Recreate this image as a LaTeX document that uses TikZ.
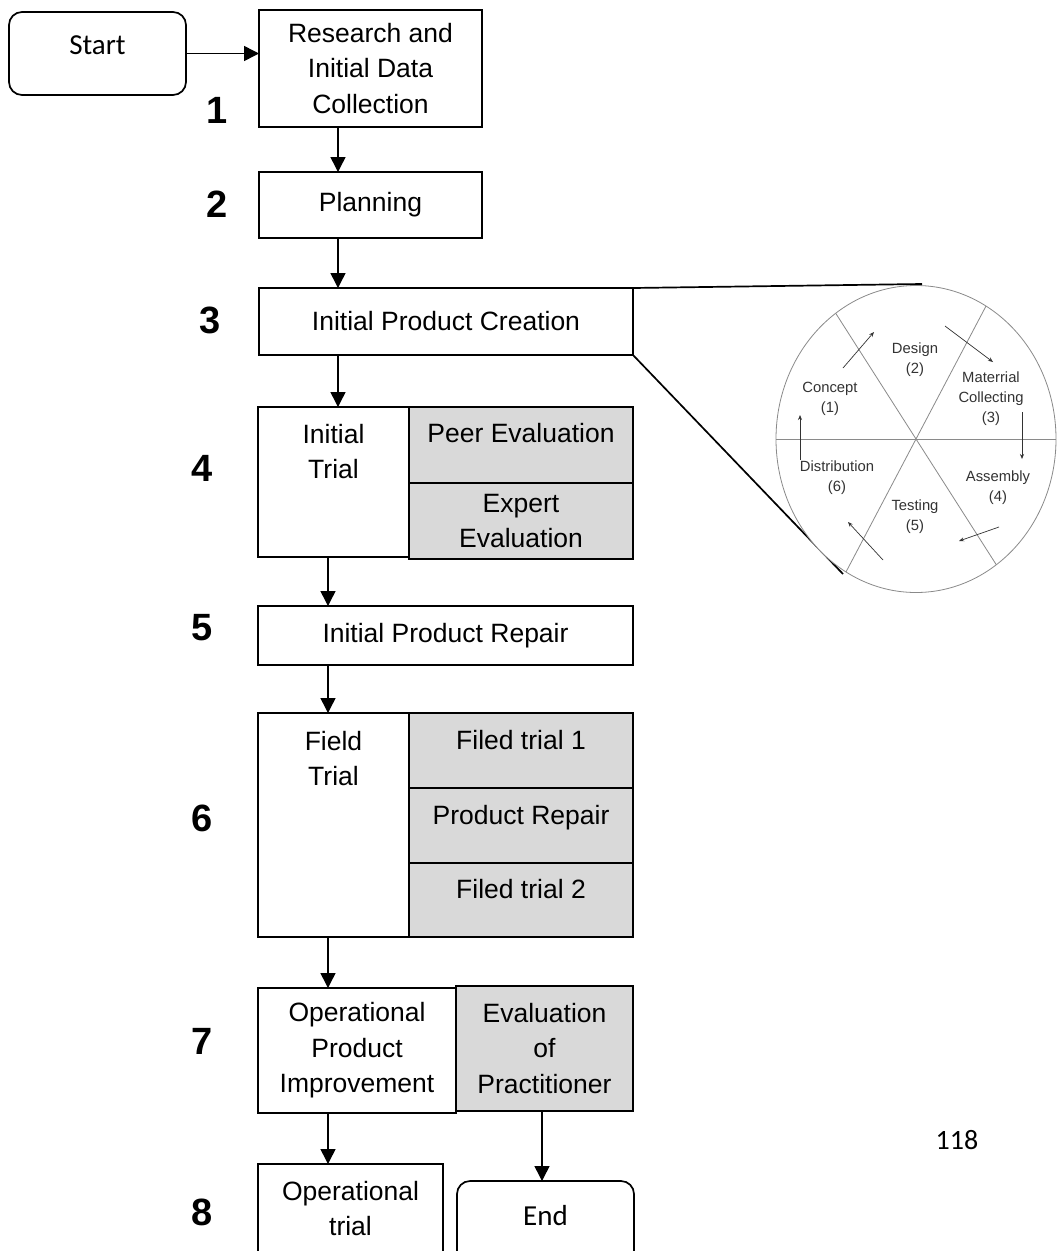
\documentclass[tikz,border=0pt]{standalone}
\usepackage{fontspec}
\setmainfont{Liberation Sans}
\newfontfamily\calibrifont{Carlito}
\usetikzlibrary{positioning,arrows.meta,calc}
\definecolor{cellgray}{HTML}{D9D9D9}
\definecolor{wheelline}{HTML}{8A8A8A}
\definecolor{wheeltext}{HTML}{333333}

\begin{document}
\begin{tikzpicture}[x=1pt, y=-1pt, line width=1.7pt,
    box/.style = {draw, inner sep=0pt, outer sep=0pt, align=center, font=\fontsize{26.5}{35.5}\selectfont},
    cell/.style = {box, fill=cellgray},
    term/.style = {draw, rounded corners=13pt, inner sep=0pt, outer sep=0pt, font=\calibrifont\fontsize{29}{29}\selectfont},
    txt/.style = {inner sep=0pt, anchor=north, align=center, font=\fontsize{26.5}{35.5}\selectfont},
    num/.style = {inner sep=0pt, font=\fontsize{38}{38}\selectfont\bfseries},
    spoke/.style = {draw=wheelline, line width=0.8pt},
    phase/.style = {align=center, inner sep=0pt, text=wheeltext, font=\fontsize{14.8}{20}\selectfont},
    cyc/.style = {-{Stealth[length=5pt,width=4pt]}, draw=wheeltext, line width=0.7pt},
    flow/.style = {-{Triangle[length=15pt,width=15pt]}, line width=1.5pt}]
            \useasboundingbox (0,0) rectangle (1064,1251);
            \clip (0,0) rectangle (1064,1251);

            \coordinate (colA) at (338,0);
            \coordinate (colB) at (328,0);
            \coordinate (colC) at (542,0);

            % main flow
            \node[term, minimum width=177pt, minimum height=83pt, text depth=17pt] (start) at (97.5,53.5) {Start};
            \node[box, minimum width=223pt, minimum height=117pt] (research) at (370.5,68.5) {Research and\\Initial Data\\Collection};
            \node[box, minimum width=223pt, minimum height=66pt] (plan) at (370.5,205) {Planning};
            \node[box, minimum width=374pt, minimum height=67pt] (ipc) at (446,321.5) {Initial Product Creation};

            \node[box, minimum width=151pt, minimum height=150pt] (itrial) at (333.5,482) {};
            \node[txt] (itrialtxt) at (333.5,423) {Initial\\Trial};
            \node[cell, minimum width=224pt, minimum height=76pt, anchor=north west] (peer) at (itrial.north east) {};
            \node[txt] (peertxt) at (521,422) {Peer Evaluation};
            \node[cell, minimum width=224pt, minimum height=76pt, below=0pt of peer] (expert) {Expert\\Evaluation};

            \node[box, minimum width=375pt, minimum height=59pt] (repair) at (445.5,635.5) {Initial Product Repair};

            \node[box, minimum width=151pt, minimum height=224pt] (ftrial) at (333.5,825) {};
            \node[txt] (ftrialtxt) at (333.5,730) {Field\\Trial};
            \node[cell, minimum width=224pt, minimum height=75pt, anchor=north west] (fone) at (ftrial.north east) {};
            \node[cell, minimum width=224pt, minimum height=75pt, below=0pt of fone] (prepair) {};
            \node[cell, minimum width=224pt, minimum height=74pt, below=0pt of prepair] (ftwo) {};
            \node[txt] (fonetxt) at (521,729) {Filed trial 1};
            \node[txt] (prepairtxt) at (521,804) {Product Repair};
            \node[txt] (ftwotxt) at (521,878) {Filed trial 2};

            \node[box, minimum width=198pt, minimum height=125pt] (improve) at (357,1050.5) {Operational\\Product\\Improvement};
            \node[cell, minimum width=177pt, minimum height=125pt] (practitioner) at (544.5,1048.5) {Evaluation\\of\\Practitioner};

            \node[box, minimum width=185pt, minimum height=110pt, anchor=north] (optrial) at (350.5,1164) {};
            \node[txt] (optrialtxt) at (350.5,1180) {Operational\\trial};
            \node[term, minimum width=177pt, minimum height=83pt, anchor=north, text depth=15pt] (end) at (545.5,1181) {End};

            % step numbers
            \node[num] (n1) at (217,110) {1};
            \node[num] (n2) at (217,204) {2};
            \node[num] (n3) at (210,320) {3};
            \node[num] (n4) at (202,468) {4};
            \node[num] (n5) at (202,628) {5};
            \node[num] (n6) at (202,818) {6};
            \node[num] (n7) at (202,1041) {7};
            \node[num] (n8) at (202,1212) {8};

            \node[inner sep=0pt, font=\calibrifont\fontsize{28}{28}\selectfont] (page) at (957,1140) {118};

            \draw[flow] (start.east) -- (start.east -| research.west);
            \draw[flow] (research.south -| colA) -- (plan.north -| colA);
            \draw[flow] (plan.south -| colA) -- (ipc.north -| colA);
            \draw[flow] (ipc.south -| colA) -- (itrial.north -| colA);
            \draw[flow] (itrial.south -| colB) -- (repair.north -| colB);
            \draw[flow] (repair.south -| colB) -- (ftrial.north -| colB);
            \draw[flow] (ftrial.south -| colB) -- (improve.north -| colB);
            \draw[flow] (improve.south -| colB) -- (optrial.north -| colB);
            \draw[flow] (practitioner.south -| colC) -- (end.north -| colC);

            % zoom onto the production cycle
            \coordinate (zoomtop) at (922,284);
            \coordinate (zoombot) at (843,574);
            \draw (ipc.north east) -- (zoomtop);
            \draw (ipc.south east) -- (zoombot);

            \coordinate (hub) at (916,439);
            \draw[spoke, fill=white] (hub) ellipse [x radius=140pt, y radius=153.5pt];
            \draw[spoke] ($(hub)+(0:140pt and 153.5pt)$) -- ($(hub)+(180:140pt and 153.5pt)$);
            \draw[spoke] ($(hub)+(60:140pt and 153.5pt)$) -- ($(hub)+(240:140pt and 153.5pt)$);
            \draw[spoke] ($(hub)+(125:140pt and 153.5pt)$) -- ($(hub)+(305:140pt and 153.5pt)$);

            \node[phase] (concept) at (830,399) {Concept\\(1)};
            \node[phase] (design) at (915,360) {Design\\(2)};
            \node[phase] (material) at (991,399) {Materrial\\Collecting\\(3)};
            \node[phase] (assembly) at (998,488) {Assembly\\(4)};
            \node[phase] (testing) at (915,517) {Testing\\(5)};
            \node[phase] (distribution) at (837,478) {Distribution\\(6)};

            \draw[cyc] (843,368) -- (874,332);
            \draw[cyc] (945,326) -- (993,362);
            \draw[cyc] (1022,412) -- (1022,459);
            \draw[cyc] (999,527) -- (959,541);
            \draw[cyc] (883,560) -- (848,522);
            \draw[cyc] (800,460) -- (800,415);
        \end{tikzpicture}
\end{document}
